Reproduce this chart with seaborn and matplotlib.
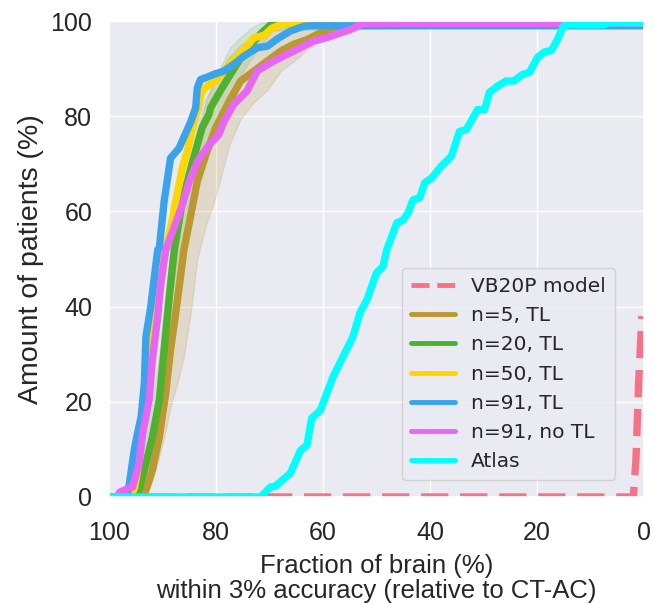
import matplotlib
matplotlib.use("Agg")
import matplotlib.pyplot as plt
import seaborn as sns
import numpy as np

# ---------------- data ----------------
vb_x = [100, 70, 40, 10, 2.0, 1.5, 1.0, 0.4]
vb_y = [0, 0, 0, 0, 0, 8, 24, 38]

n5_x = [100, 94.5, 93.1, 91.9, 90.6, 89.4, 88.5, 87.2, 86, 84.7, 83.5, 81.9, 80.1, 77.5, 75.4,
        72.9, 70.4, 67.9, 65.5, 63, 60.5, 58, 56.2, 53, 0]
n5_y = [0, 0, 1.4, 5.6, 12.6, 21.8, 30.9, 41.4, 51.9, 59.3, 66.3, 71.9, 77.5, 83.2, 87.4,
        89.5, 91.6, 93.7, 95.1, 96.1, 97.5, 98.6, 99.3, 99.3, 99.3]
n5_lo = [0, 0, 0.7, 3.5, 8.5, 14, 19, 24, 29.6, 39, 50, 57, 63, 74, 79.5,
         83, 85.5, 89.5, 91.5, 94, 95.8, 97.3, 98.3, 99.3, 99.3]
n5_hi = [0, 0.5, 4, 10, 20, 30, 40, 52, 62, 70, 76, 83, 88, 92.5, 95,
         96.5, 97.5, 98.5, 99, 99.5, 99.5, 99.5, 99.5, 99.3, 99.3]

n20_x = [100, 95.5, 94.4, 93.1, 91.9, 90.6, 89.7, 88.8, 87.8, 86.3, 84.7, 82.6, 81.3, 81, 79.1,
         77.3, 75.5, 73.5, 71.5, 69.5, 0]
n20_y = [0, 0, 1.4, 7, 12.6, 20.4, 30.9, 41.4, 51.9, 62.1, 69.1, 77.6, 80.4, 81.8, 85.5,
         88.8, 92, 95, 97.5, 99.5, 99.5]
n20_lo = [0, 0, 0, 3, 7, 13, 22, 31, 42, 54, 62, 71, 75, 77, 81,
          85, 88.5, 92, 95, 98, 99.5]
n20_hi = [0, 0, 4, 12, 20, 30, 40, 50, 60, 70, 76, 82.5, 85, 86, 90.5,
          94.5, 96.5, 98.5, 99.7, 99.7, 99.5]

n50_x = [100, 96, 95.2, 94.6, 94.0, 93.3, 92.6, 91.8, 90.8, 89.4, 88.2, 87.8, 86.3, 85.3, 84.4,
         83.5, 82.6, 81.5, 80.1, 78.5, 77, 75.5, 74, 72.9, 71, 69.5, 67.4, 0]
n50_y = [0, 0, 2, 6, 12, 20, 30, 40, 46, 52, 58, 60.7, 69.1, 73, 77.6,
         81.5, 85.3, 86.5, 87.4, 89.5, 91.5, 93, 95, 96.5, 97, 98.5, 99.5, 99.5]

n91_x = [100, 97, 96.5, 96.2, 95.3, 94.7, 94, 93.4, 93.1, 92.2, 91.6, 90.9, 90.6, 89.7, 88.5,
         86.9, 84.7, 83.8, 83.5, 82.9, 81.9, 80.4, 78.5, 76.7, 74.8, 72.3, 70.4, 68.6, 66.1,
         63.6, 62, 0]
n91_y = [0, 0, 0.7, 2.8, 9.8, 13.3, 16.8, 23.9, 33.7, 40, 45.6, 51.9, 52.3, 62.1, 71.2,
         73.3, 78.9, 81.8, 86, 87.7, 88.1, 88.8, 89.5, 90.9, 92.6, 94.4, 94.7, 96.2, 97.9,
         98.9, 99, 99]

nt_x = [100, 98.5, 98, 97, 95.6, 94.4, 93.7, 92.5, 91.9, 90.9, 90.3, 89.4, 88.1, 86.3, 85,
        83.5, 81.3, 79.5, 78.5, 76.7, 74.2, 72.3, 69.2, 66.7, 64.2, 61.8, 59.3, 56.8, 54.9,
        52.5, 0]
nt_y = [0, 0, 1, 1.5, 2.1, 7, 13.3, 20.4, 28.8, 37.9, 44.9, 51.9, 55.8, 61.4, 66.3,
        70.5, 74, 76.1, 78.9, 82.5, 85.3, 89.5, 91.6, 93, 94.4, 95.8, 96.5, 97.5, 98.2,
        99.5, 99.5]

at_x = [100, 71.7, 69.8, 68.9, 66.1, 64.2, 63, 62.1, 60.5, 58.1, 54.4, 53.1, 51.8, 50, 48.8,
        48.1, 46.2, 45, 44.1, 43.2, 41.9, 41, 39.7, 37.9, 36, 34.5, 33.2, 31.1, 29.8, 28.9,
        27.4, 25.8, 24.3, 22.7, 21.4, 19.9, 18.6, 17.3, 16.1, 15.1, 14.5, 7.5, 6.5, 0]
at_y = [0, 0, 2.1, 2.3, 5, 9.8, 10.9, 16.6, 18.2, 25.3, 33.7, 38.7, 41.4, 47.1, 48.4,
        51.9, 57.6, 58.2, 59.7, 62.4, 62.9, 66, 67, 69.5, 71.6, 76.8, 77.2, 81.4, 81.4, 85,
        86.3, 87.4, 87.4, 88.8, 89.2, 92.4, 93.5, 93.8, 96.3, 98.9, 99.2, 99.2, 99.6, 99.6]

labels = ["VB20P model", "n=5, TL", "n=20, TL", "n=50, TL", "n=91, TL", "n=91, no TL", "Atlas"]
colors = ["#f77189", "#bb9832", "#50b131", "#ffd700", "#3ba3ec", "#e866f4", "#00ffff"]

xticks = [100, 80, 60, 40, 20, 0]
yticks = [0, 20, 40, 60, 80, 100]

# ---------------- plot ----------------
sns.set_theme(style="darkgrid")
fig = plt.figure(figsize=(6.54, 6.04), dpi=100)
ax = fig.add_axes([0.1667, 0.1772, 0.818, 0.788])

lw = 5.3
ax.fill_between(n5_x, n5_lo, n5_hi, color=colors[1], alpha=0.2, linewidth=1)
ax.fill_between(n20_x, n20_lo, n20_hi, color=colors[2], alpha=0.15, linewidth=1)

series = [(vb_x, vb_y), (n5_x, n5_y), (n20_x, n20_y), (n50_x, n50_y),
          (n91_x, n91_y), (nt_x, nt_y), (at_x, at_y)]
for i, ((xs, ys), lab, col) in enumerate(zip(series, labels, colors)):
    sns.lineplot(x=xs, y=ys, ax=ax, color=col, label=lab, linewidth=lw,
                 estimator=None, sort=False,
                 linestyle="--" if i == 0 else "-")

ax.set_xlim(100, 0)
ax.set_ylim(0, 100)
ax.set_xticks(xticks)
ax.set_yticks(yticks)
tick_font = ["Liberation Sans", "DejaVu Sans"]
ax.set_xticklabels([str(t) for t in xticks], family=tick_font, fontsize=18, color="#262626")
ax.set_yticklabels([str(t) for t in yticks], family=tick_font, fontsize=18, color="#262626")
ax.tick_params(axis="x", pad=11)
ax.tick_params(axis="y", pad=6)
ax.set_xlabel("Fraction of brain (%)\nwithin 3% accuracy (relative to CT-AC)",
              family=tick_font, fontsize=18.5, color="#262626", labelpad=7,
              linespacing=1.05)
ax.set_ylabel("Amount of patients (%)", family=tick_font, fontsize=20.5, color="#262626",
              labelpad=5)

leg = ax.legend(loc="lower right", bbox_to_anchor=(0.946, 0.036), borderaxespad=0,
                fontsize=14.5, labelspacing=0.5, handlelength=2.2, handletextpad=0.8,
                borderpad=0.45)
for h in leg.get_lines():
    h.set_linewidth(3.5)

fig.savefig("out.png", dpi=100)
